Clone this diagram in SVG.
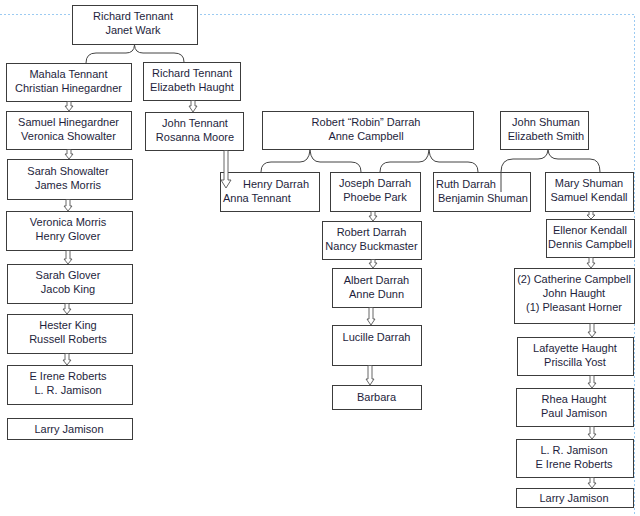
<svg xmlns="http://www.w3.org/2000/svg" width="640" height="516" viewBox="0 0 640 516">
<style>
.box{fill:#fff;stroke:#3c3c3c;stroke-width:1}
.t{font-family:"Liberation Sans",Arial,sans-serif;font-size:11px;fill:#1e1e3c;text-anchor:middle}
.ts{font-family:"Liberation Sans",Arial,sans-serif;font-size:11px;fill:#1e1e3c;text-anchor:start}
.arr{fill:#fff;stroke:#555;stroke-width:0.9}
.brace{fill:none;stroke:#444;stroke-width:1}
.guide{fill:none;stroke:#9ccbf2;stroke-width:1;stroke-dasharray:2 2}
</style>
<rect width="640" height="516" fill="#fff"/>
<g id="guides">
<path class="guide" d="M0 14.5 H634.5 V516"/>
</g>
<g id="n1"><rect class="box" x="72.5" y="5.5" width="125" height="39"/><text class="t" x="133" y="20">Richard Tennant</text><text class="t" x="133" y="34">Janet Wark</text></g>
<g id="n2"><rect class="box" x="6.5" y="63.5" width="125" height="38"/><text class="t" x="68.5" y="78">Mahala Tennant</text><text class="t" x="68.5" y="92">Christian Hinegardner</text></g>
<g id="n3"><rect class="box" x="143.5" y="62.5" width="97" height="38"/><text class="t" x="192" y="77">Richard Tennant</text><text class="t" x="192" y="91">Elizabeth Haught</text></g>
<g id="n4"><rect class="box" x="6.5" y="111.5" width="125" height="38"/><text class="t" x="68.5" y="126">Samuel Hinegardner</text><text class="t" x="68.5" y="140">Veronica Showalter</text></g>
<g id="n5"><rect class="box" x="145.5" y="112.5" width="98" height="38"/><text class="t" x="195" y="127">John Tennant</text><text class="t" x="195" y="141">Rosanna Moore</text></g>
<g id="n6"><rect class="box" x="7.5" y="159.5" width="125" height="40"/><text class="t" x="68" y="175">Sarah Showalter</text><text class="t" x="68" y="189">James Morris</text></g>
<g id="n7"><rect class="box" x="6.5" y="211.5" width="126" height="39"/><text class="t" x="68" y="226">Veronica Morris</text><text class="t" x="68" y="240">Henry Glover</text></g>
<g id="n8"><rect class="box" x="7.5" y="264.5" width="125" height="39"/><text class="t" x="68" y="279">Sarah Glover</text><text class="t" x="68" y="293">Jacob King</text></g>
<g id="n9"><rect class="box" x="7.5" y="314.5" width="125" height="39"/><text class="t" x="68" y="329">Hester King</text><text class="t" x="68" y="343">Russell Roberts</text></g>
<g id="n10"><rect class="box" x="7.5" y="365.5" width="125" height="39"/><text class="t" x="68" y="380">E Irene Roberts</text><text class="t" x="68" y="394">L. R. Jamison</text></g>
<g id="n11"><rect class="box" x="7.5" y="418.5" width="125" height="21"/><text class="t" x="69" y="433">Larry Jamison</text></g>
<g id="n12"><rect class="box" x="262.5" y="111.5" width="211" height="38"/><text class="t" x="366" y="126">Robert “Robin” Darrah</text><text class="t" x="366" y="140">Anne Campbell</text></g>
<g id="n13"><rect class="box" x="220.5" y="172.5" width="99" height="39"/><text class="ts" x="243" y="188">Henry Darrah</text><text class="ts" x="223" y="202">Anna Tennant</text></g>
<g id="n14"><rect class="box" x="330.5" y="172.5" width="90" height="39"/><text class="t" x="375" y="187">Joseph Darrah</text><text class="t" x="375" y="201">Phoebe Park</text></g>
<g id="n15"><rect class="box" x="433.5" y="172.5" width="97" height="39"/><text class="ts" x="436" y="188">Ruth Darrah</text><text class="ts" x="438" y="202">Benjamin Shuman</text></g>
<g id="n16"><rect class="box" x="500.5" y="111.5" width="88" height="38"/><text class="t" x="546" y="126">John Shuman</text><text class="t" x="546" y="140">Elizabeth Smith</text></g>
<g id="n17"><rect class="box" x="545.5" y="172.5" width="88" height="39"/><text class="t" x="589" y="187">Mary Shuman</text><text class="t" x="589" y="201">Samuel Kendall</text></g>
<g id="n18"><rect class="box" x="546.5" y="219.5" width="88" height="38"/><text class="t" x="590" y="234">Ellenor Kendall</text><text class="t" x="590" y="248">Dennis Campbell</text></g>
<g id="n19"><rect class="box" x="514.5" y="268.5" width="120" height="55"/><text class="t" x="574" y="283">(2) Catherine Campbell</text><text class="t" x="574" y="297">John Haught</text><text class="t" x="574" y="311">(1) Pleasant Horner</text></g>
<g id="n20"><rect class="box" x="517.5" y="337.5" width="116" height="38"/><text class="t" x="575" y="352">Lafayette Haught</text><text class="t" x="575" y="366">Priscilla Yost</text></g>
<g id="n21"><rect class="box" x="516.5" y="388.5" width="117" height="38"/><text class="t" x="574" y="403">Rhea Haught</text><text class="t" x="574" y="417">Paul Jamison</text></g>
<g id="n22"><rect class="box" x="516.5" y="439.5" width="117" height="38"/><text class="t" x="574" y="454">L. R. Jamison</text><text class="t" x="574" y="468">E Irene Roberts</text></g>
<g id="n23"><rect class="box" x="516.5" y="488.5" width="117" height="19"/><text class="t" x="574" y="502">Larry Jamison</text></g>
<g id="n24"><rect class="box" x="322.5" y="221.5" width="99" height="38"/><text class="t" x="371.5" y="236">Robert Darrah</text><text class="t" x="371.5" y="250">Nancy Buckmaster</text></g>
<g id="n25"><rect class="box" x="332.5" y="268.5" width="89" height="39"/><text class="t" x="376.5" y="284">Albert Darrah</text><text class="t" x="376.5" y="298">Anne Dunn</text></g>
<g id="n26"><rect class="box" x="332.5" y="325.5" width="89" height="40"/><text class="t" x="376.5" y="341">Lucille Darrah</text></g>
<g id="n27"><rect class="box" x="332.5" y="385.5" width="89" height="24"/><text class="t" x="376.5" y="401">Barbara</text></g>
<g id="connectors">
<path class="brace" d="M86 63 Q86 53 96 53 H126 Q134 53 134.5 45 Q135 53 143 53 H174 Q184 53 184 62"/>
<path class="brace" d="M261 172 Q261 162 271 162 H300 Q309 162 310 150 Q311 162 320 162 H351 Q361 162 361 172"/>
<path class="brace" d="M380 172 Q380 162 390 162 H419 Q428 162 429 150 Q430 162 439 162 H468 Q478 162 478 172"/>
<path class="brace" d="M501 192 V172 Q501 159 513 159 H538 Q547 159 548 150 Q549 159 558 159 H590 Q600 159 600 172"/>
<path class="arr" d="M67 101.5 V106 H65 L69 111 L73 106 H71 V101.5 Z"/>
<path class="arr" d="M191 100.5 V106 H189 L193 112 L197 106 H195 V100.5 Z"/>
<path class="arr" d="M67 149.5 V154 H65 L69 159 L73 154 H71 V149.5 Z"/>
<path class="arr" d="M66 199.5 V206 H64 L68 211 L72 206 H70 V199.5 Z"/>
<path class="arr" d="M66 250.5 V259 H64 L68 264 L72 259 H70 V250.5 Z"/>
<path class="arr" d="M65 303.5 V309 H63 L67 314 L71 309 H69 V303.5 Z"/>
<path class="arr" d="M65 353.5 V360 H63 L67 365 L71 360 H69 V353.5 Z"/>
<path class="arr" d="M224 150.5 V180 H221 L226 188 L231 180 H228 V150.5 Z"/>
<path class="arr" d="M371 211.5 V216 H369 L373 221 L377 216 H375 V211.5 Z"/>
<path class="arr" d="M371 259.5 V263 H369 L373 268 L377 263 H375 V259.5 Z"/>
<path class="arr" d="M369 307.5 V319 H367 L371 325 L375 319 H373 V307.5 Z"/>
<path class="arr" d="M368 365.5 V379 H366 L370 385 L374 379 H372 V365.5 Z"/>
<path class="arr" d="M589 211.5 V215 H587 L591 219 L595 215 H593 V211.5 Z"/>
<path class="arr" d="M589 257.5 V263 H587 L591 268 L595 263 H593 V257.5 Z"/>
<path class="arr" d="M590 323.5 V332 H588 L592 337 L596 332 H594 V323.5 Z"/>
<path class="arr" d="M590 375.5 V383 H588 L592 388 L596 383 H594 V375.5 Z"/>
<path class="arr" d="M590 426.5 V434 H588 L592 439 L596 434 H594 V426.5 Z"/>
<path class="arr" d="M590 477.5 V483 H588 L592 488 L596 483 H594 V477.5 Z"/>
</g>
</svg>
